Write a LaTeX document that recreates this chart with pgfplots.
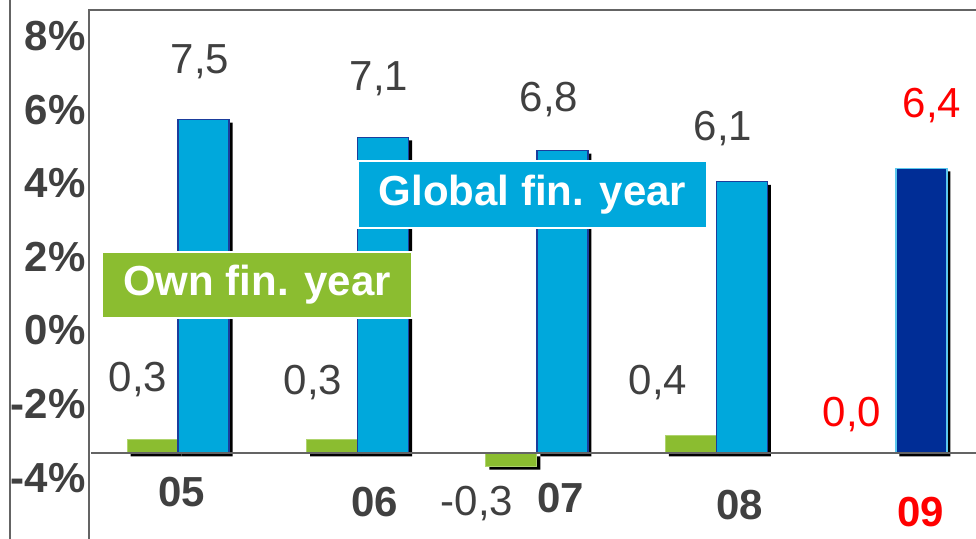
\documentclass[border=0pt]{standalone}
\usepackage{fontspec}
\setmainfont{Liberation Sans}
\usepackage{pgfplots}
\pgfplotsset{compat=1.18}
\definecolor{cblue}{RGB}{0,168,220}
\definecolor{cblueedge}{RGB}{27,61,156}
\definecolor{cnavy}{RGB}{0,45,150}
\definecolor{cnavyedge}{RGB}{91,200,238}
\definecolor{cgreen}{RGB}{139,189,48}
\definecolor{cgreenedge}{RGB}{175,212,110}
\definecolor{cgray}{RGB}{64,64,64}
\definecolor{cframe}{RGB}{100,100,100}
\newcommand{\bigf}{\fontsize{21}{25}\selectfont}

\begin{document}
\begin{tikzpicture}
\path[use as bounding box] (0,0) rectangle (488pt,-269.5pt);
\draw[cframe, line width=0.7pt] (5pt,0) -- (5pt,-269.5pt);
\begin{axis}[
  at={(44.5pt,-5pt)}, anchor=north west,
  scale only axis, width=443.5pt, height=264.5pt,
  xmin=-0.496, xmax=4.446, ymin=-1.926, ymax=9.962,
  axis line style={draw=none},
  xtick=\empty,
  ytick={-0.546,1.108,2.762,4.416,6.070,7.724,9.378},
  yticklabels={-4\%,-2\%,0\%,2\%,4\%,6\%,8\%},
  major tick length=0pt,
  yticklabel style={font=\bigf\bfseries, text=cgray, anchor=east, inner sep=0pt, xshift=-1.5pt},
  clip=false,
  every axis plot/.append style={ybar, bar width=25.5pt},
]
  % shadows
  \addplot[bar shift=14.5pt, yshift=-1.5pt, fill=black, draw=none]
    coordinates {(0,7.5) (1,7.1) (2,6.8) (3,6.1) (4,6.4)};
  \addplot[bar shift=-11pt, yshift=-1.5pt, fill=black, draw=none]
    coordinates {(0,0.3) (1,0.3) (2,-0.3) (3,0.4)};
  % own fin. year
  \addplot[bar shift=-12.75pt, fill=cgreen, draw=cgreenedge, line width=0.5pt]
    coordinates {(0,0.3) (1,0.3) (2,-0.3) (3,0.4)};
  % global fin. year
  \addplot[bar shift=12.75pt, fill=cblue, draw=cblueedge, line width=0.6pt]
    coordinates {(0,7.5) (1,7.1) (2,6.8) (3,6.1)};
  \addplot[bar shift=12.75pt, fill=cnavy, draw=cnavyedge, line width=0.6pt]
    coordinates {(4,6.4)};

  \draw[cframe, line width=0.9pt] (axis cs:-0.485,0) -- (axis cs:4.446,0);
  \draw[cframe, line width=0.7pt] (rel axis cs:0,0) -- (rel axis cs:0,1) -- (rel axis cs:1,1);

  % value labels
  \begin{scope}[every node/.style={font=\bigf, text=cgray, anchor=base, inner sep=0pt}]
    \node at (axis cs:0.122,8.546) {7,5};
    \node at (axis cs:1.120,8.164) {7,1};
    \node at (axis cs:2.067,7.692) {6,8};
    \node at (axis cs:3.036,7.040) {6,1};
    \node[text=red] at (axis cs:4.200,7.535) {6,4};
    \node at (axis cs:-0.223,1.378) {0,3};
    \node at (axis cs:0.752,1.310) {0,3};
    \node at (axis cs:1.666,-1.387) {-0,3};
    \node at (axis cs:2.674,1.310) {0,4};
    \node[text=red] at (axis cs:3.755,0.591) {0,0};
  \end{scope}
  % year labels
  \begin{scope}[every node/.style={font=\bigf\bfseries, text=cgray, anchor=base, inner sep=0pt}]
    \node at (axis cs:0.022,-1.202) {05};
    \node at (axis cs:1.097,-1.427) {06};
    \node at (axis cs:2.133,-1.337) {07};
    \node at (axis cs:3.131,-1.495) {08};
    \node[text=red] at (axis cs:4.139,-1.652) {09};
  \end{scope}
  % series boxes
  \node[fill=cblue, draw=white, line width=0.6pt, text=white, font=\bigf\bfseries,
        minimum width=174.5pt, minimum height=33.5pt, inner sep=0pt]
    at (axis cs:1.975,5.816) {Global fin. year};
  \node[fill=cgreen, draw=white, line width=0.6pt, text=white, font=\bigf\bfseries,
        minimum width=155pt, minimum height=33pt, inner sep=0pt]
    at (axis cs:0.440,3.782) {Own fin. year};
\end{axis}
\end{tikzpicture}
\end{document}
